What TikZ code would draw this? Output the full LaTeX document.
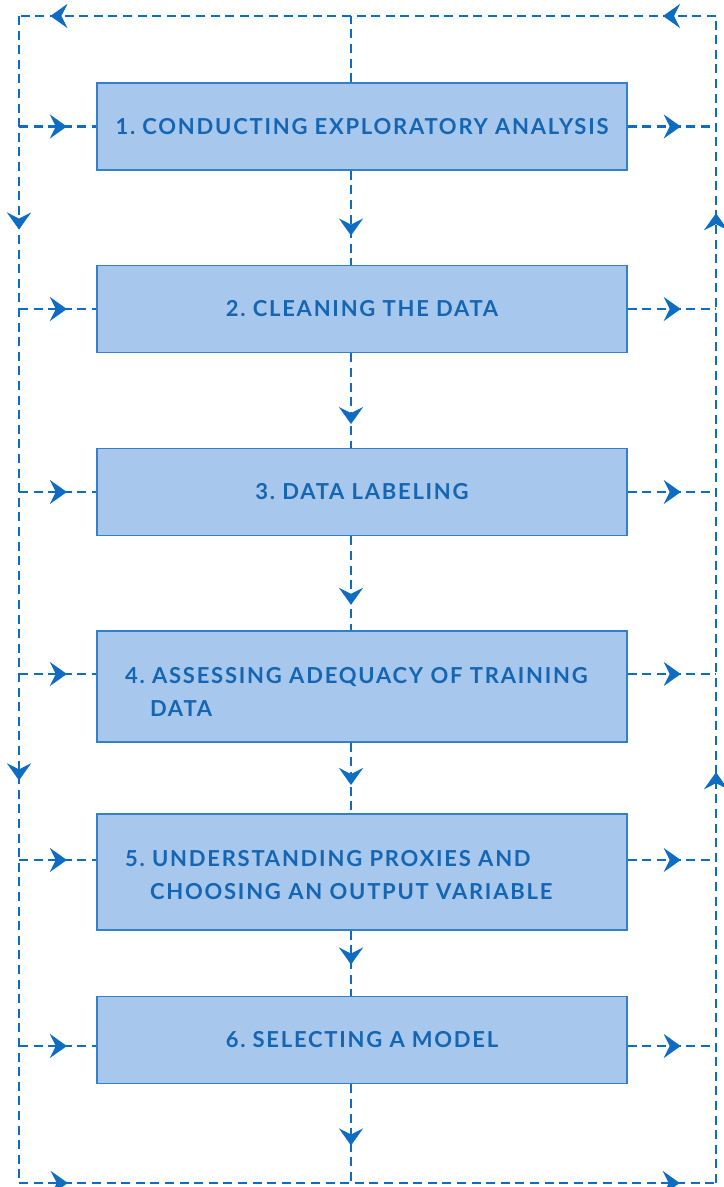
\documentclass[tikz,border=0pt]{standalone}
\usepackage{fontspec}
\setmainfont{Lato}
\newfontfamily\stagefont[LetterSpace=8]{Lato}
\usetikzlibrary{arrows.meta,decorations.markings}

\definecolor{flowline}{RGB}{14,108,194}
\definecolor{boxfill}{RGB}{168,199,236}
\definecolor{boxline}{RGB}{52,128,200}
\definecolor{labeltext}{RGB}{20,102,180}

\begin{document}
\begin{tikzpicture}[x=0.5pt,y=-0.5pt]
  \tikzset{
    stage/.style={draw=boxline, fill=boxfill, line width=0.8pt, inner sep=0pt,
      minimum width=265pt, minimum height=43.5pt, text=labeltext,
      font=\stagefont\bfseries\frenchspacing\fontsize{11}{16.5}\selectfont},
    twoline/.style={align=left, text width=237pt},
    flow/.style={draw=flowline, line width=1.4pt, dash pattern=on 4.5pt off 2.8pt},
    tip at/.style={postaction={decorate, decoration={markings,
      mark=at position #1 with {\arrow{Stealth[length=8.5pt,width=12pt,inset=3pt]}}}}}
  }
  \useasboundingbox (0,0) rectangle (723,1187);

  % Stages
  \node[stage] (s1) at (362,126.5) {1. CONDUCTING EXPLORATORY ANALYSIS};
  \node[stage] (s2) at (362,309) {2. CLEANING THE DATA};
  \node[stage] (s3) at (362,492) {3. DATA LABELING};
  \node[stage, twoline, minimum height=55.5pt] (s4) at (362,686.5)
    {\rule{0pt}{13pt}4. ASSESSING ADEQUACY OF TRAINING\\\hspace*{12.5pt}DATA};
  \node[stage, twoline, minimum height=58pt] (s5) at (362,872)
    {\rule{0pt}{11pt}5. UNDERSTANDING PROXIES AND\\\hspace*{12.5pt}CHOOSING AN OUTPUT VARIABLE};
  \node[stage] (s6) at (362,1040) {6. SELECTING A MODEL};

  % Corners of the feedback loop
  \coordinate (tl) at (19,16);
  \coordinate (tr) at (716,16);
  \coordinate (bl) at (19,1183);
  \coordinate (br) at (716,1183);
  \coordinate (tc) at (351,16);
  \coordinate (bc) at (351,1183);

  % Outer loop
  \draw[flow, tip at=0.076, tip at=0.955] (tr) -- (tl);
  \draw[flow, tip at=0.183, tip at=0.655] (tl) -- (bl);
  \draw[flow, tip at=0.07, tip at=0.948] (bl) -- (br);
  \draw[flow, tip at=0.352, tip at=0.831] (br) -- (tr);

  % Main spine
  \draw[flow] (s1.north -| tc) -- (tc);
  \foreach \a/\b/\p in {s1/s2/0.69,s2/s3/0.75,s3/s4/0.73,s4/s5/0.6,s5/s6/0.52}
    \draw[flow, tip at=\p] (\a.south -| tc) -- (\b.north -| tc);
  \draw[flow, tip at=0.62] (s6.south -| tc) -- (bc);

  % Side links
  \foreach \s/\dy in {s1/0,s2/0,s3/0,s4/6.25,s5/6,s6/-3} {
    \draw[flow, tip at=0.62] ([yshift=\dy pt]\s.west -| tl) -- ([yshift=\dy pt]\s.west);
    \draw[flow, tip at=0.6] ([yshift=\dy pt]\s.east) -- ([yshift=\dy pt]\s.east -| tr);
  }
\end{tikzpicture}
\end{document}
